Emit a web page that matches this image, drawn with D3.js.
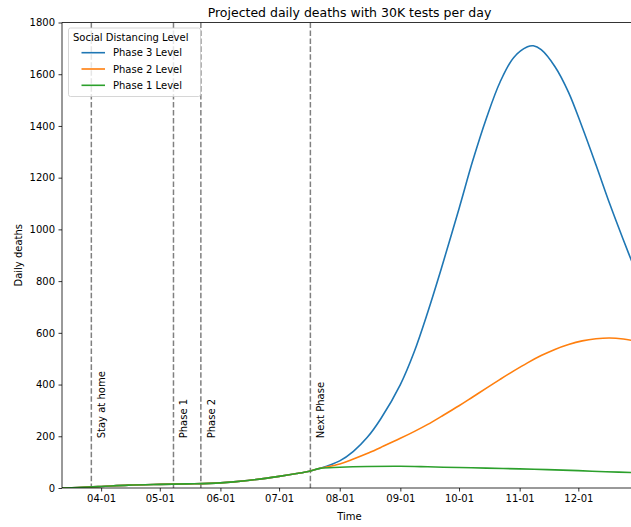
<!DOCTYPE html>
<html>
<head>
<meta charset="utf-8">
<script src="https://cdn.jsdelivr.net/npm/d3@7"></script>
<style>
  html, body { margin: 0; padding: 0; background: #fff; }
  svg { display: block; font-family: "DejaVu Sans", sans-serif; }
</style>
</head>
<body>
<svg id="chart" width="631" height="527"></svg>
<script>
// ---------- data ----------
const chartTitle = "Projected daily deaths with 30K tests per day";
const xLabel = "Time";
const yLabel = "Daily deaths";
const legendTitle = "Social Distancing Level";
const seriesNames = ["Phase 3 Level", "Phase 2 Level", "Phase 1 Level"];
const seriesColors = ["#1f77b4", "#ff7f0e", "#2ca02c"];

// shared early trajectory (all scenarios identical)
const earlyDates  = ["2020-03-12","2020-03-20","2020-04-01","2020-04-15","2020-05-01","2020-05-15","2020-06-01","2020-06-15","2020-07-01","2020-07-10","2020-07-17","2020-07-22"];
const earlyDeaths = [0, 2, 6, 11, 14, 16, 20, 29, 45, 56, 66, 76];

const phase3Dates  = ["2020-08-01","2020-08-08","2020-08-15","2020-08-22","2020-09-01","2020-09-08","2020-09-15","2020-09-22","2020-10-01","2020-10-08","2020-10-15","2020-10-22","2020-10-29","2020-11-05","2020-11-08","2020-11-12","2020-11-19","2020-11-26","2020-12-03","2020-12-10","2020-12-17","2020-12-24","2020-12-31"];
const phase3Deaths = [105, 142, 195, 268, 400, 525, 680, 850, 1080, 1265, 1430, 1570, 1665, 1706, 1710, 1695, 1630, 1530, 1395, 1250, 1100, 960, 825];

const phase2Dates  = ["2020-08-01","2020-08-08","2020-08-15","2020-08-22","2020-09-01","2020-09-08","2020-09-15","2020-09-22","2020-10-01","2020-10-08","2020-10-15","2020-10-22","2020-10-29","2020-11-05","2020-11-12","2020-11-19","2020-11-26","2020-12-03","2020-12-10","2020-12-17","2020-12-24","2020-12-31"];
const phase2Deaths = [93, 112, 133, 157, 192, 218, 246, 277, 318, 352, 386, 420, 453, 484, 512, 536, 555, 569, 577, 580, 576, 567];

const phase1Dates  = ["2020-08-01","2020-08-15","2020-09-01","2020-09-15","2020-10-01","2020-10-15","2020-11-01","2020-11-15","2020-12-01","2020-12-15","2020-12-31"];
const phase1Deaths = [80, 83, 84, 82, 79, 77, 74, 71, 67, 63, 59];

const eventDates  = ["2020-03-27","2020-05-08","2020-05-22","2020-07-17"];
const eventLabels = ["Stay at home","Phase 1","Phase 2","Next Phase"];

const xDomain = ["2020-03-12","2020-12-31"];
const yTicks = [0, 200, 400, 600, 800, 1000, 1200, 1400, 1600, 1800];

// ---------- layout ----------
const parse = d3.utcParse("%Y-%m-%d");
const M = { left: 62, right: 637, top: 22.5, bottom: 488 };
const svg = d3.select("#chart");

const x = d3.scaleUtc().domain(xDomain.map(parse)).range([M.left, M.right]);
const y = d3.scaleLinear().domain([0, 1800]).range([M.bottom, M.top]);

const build = (dates, vals) => earlyDates.map((d, i) => ({ d: parse(d), v: earlyDeaths[i] }))
  .concat(dates.map((d, i) => ({ d: parse(d), v: vals[i] })));
const series = [
  build(phase3Dates, phase3Deaths),
  build(phase2Dates, phase2Deaths),
  build(phase1Dates, phase1Deaths)
];

svg.append("defs").append("clipPath").attr("id", "clip")
  .append("rect").attr("x", M.left).attr("y", M.top)
  .attr("width", M.right - M.left).attr("height", M.bottom - M.top);

const plot = svg.append("g").attr("clip-path", "url(#clip)");

// event lines
plot.selectAll("line.ev").data(eventDates).enter().append("line")
  .attr("class", "ev")
  .attr("x1", d => x(parse(d))).attr("x2", d => x(parse(d)))
  .attr("y1", M.top).attr("y2", M.bottom)
  .attr("stroke", "#808080").attr("stroke-width", 1.5)
  .attr("stroke-dasharray", "5.55,2.4");

// series lines
const line = d3.line().x(p => x(p.d)).y(p => y(p.v)).curve(d3.curveCatmullRom.alpha(0.5));
plot.selectAll("path.s").data(series).enter().append("path")
  .attr("class", "s")
  .attr("d", line)
  .attr("fill", "none")
  .attr("stroke", (d, i) => seriesColors[i])
  .attr("stroke-width", 1.6);

// event labels
const dayMs = 86400000;
svg.selectAll("text.ev").data(eventDates).enter().append("text")
  .attr("class", "ev")
  .attr("transform", (d, i) => `translate(${x(new Date(+parse(d) + 7 * dayMs))},${y(200) + 2}) rotate(-90)`)
  .attr("font-size", 10)
  .attr("fill", "#000")
  .text((d, i) => eventLabels[i]);

// axes
const yAxis = d3.axisLeft(y).tickValues(yTicks).tickFormat(d3.format("d")).tickSize(3.5).tickPadding(3.5);
const yg = svg.append("g").attr("transform", `translate(${M.left},0)`).call(yAxis);
const months = d3.utcMonth.range(parse("2020-04-01"), parse("2020-12-02"));
const xAxis = d3.axisBottom(x).tickValues(months).tickFormat(d3.utcFormat("%m-%d")).tickSize(3.5).tickPadding(3.5);
const xg = svg.append("g").attr("transform", `translate(0,${M.bottom})`).call(xAxis);
[yg, xg].forEach(g => {
  g.select(".domain").remove();
  g.selectAll(".tick line").attr("stroke", "#000").attr("stroke-width", 0.8);
  g.selectAll(".tick text").attr("font-size", 10).attr("fill", "#000").attr("font-family", "DejaVu Sans, sans-serif");
});

// spines
const sp = svg.append("g").attr("stroke", "#000").attr("stroke-width", 0.8);
sp.append("line").attr("x1", M.left).attr("x2", M.left).attr("y1", M.top).attr("y2", M.bottom);
sp.append("line").attr("x1", M.left).attr("x2", M.right).attr("y1", M.bottom).attr("y2", M.bottom);
sp.append("line").attr("x1", M.left).attr("x2", M.right).attr("y1", M.top).attr("y2", M.top);
sp.append("line").attr("x1", M.right).attr("x2", M.right).attr("y1", M.top).attr("y2", M.bottom);

// title & axis labels
svg.append("text").attr("x", (M.left + M.right) / 2).attr("y", 16.5)
  .attr("text-anchor", "middle").attr("font-size", 12.5).text(chartTitle);
svg.append("text").attr("x", (M.left + M.right) / 2).attr("y", 519.5)
  .attr("text-anchor", "middle").attr("font-size", 10).text(xLabel);
svg.append("text").attr("transform", `translate(22,${(M.top + M.bottom) / 2}) rotate(-90)`)
  .attr("text-anchor", "middle").attr("font-size", 10).text(yLabel);

// legend
const lg = svg.append("g");
lg.append("rect").attr("x", 68.5).attr("y", 28).attr("width", 132).attr("height", 68.5)
  .attr("rx", 2).attr("fill", "#fff").attr("fill-opacity", 0.8)
  .attr("stroke", "#cccccc").attr("stroke-width", 0.8);
lg.append("text").attr("x", 73).attr("y", 41).attr("font-size", 10).text(legendTitle);
seriesNames.forEach((n, i) => {
  const cy = 52.7 + i * 16.3;
  lg.append("line").attr("x1", 81.5).attr("x2", 105).attr("y1", cy).attr("y2", cy)
    .attr("stroke", seriesColors[i]).attr("stroke-width", 1.6);
  lg.append("text").attr("x", 113).attr("y", cy + 3.6).attr("font-size", 10).text(n);
});
</script>
</body>
</html>
